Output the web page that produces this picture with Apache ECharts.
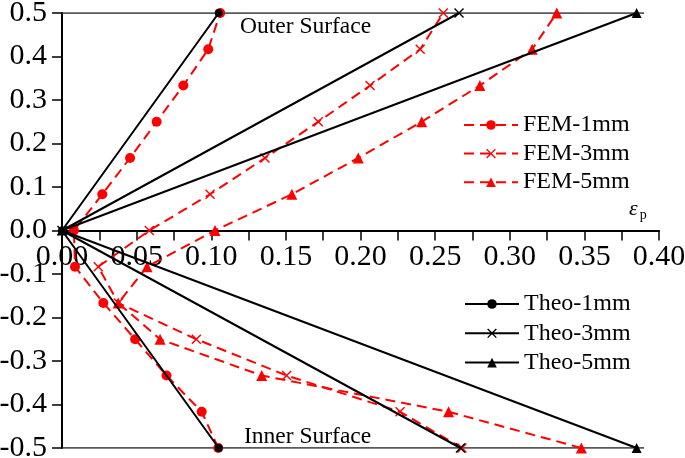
<!DOCTYPE html>
<html>
<head>
<meta charset="utf-8">
<script src="https://cdn.jsdelivr.net/npm/echarts@6/dist/echarts.min.js"></script>
<style>html,body{margin:0;padding:0;background:#fff;}#c{width:685px;height:458px;}</style>
</head>
<body>
<div id="c"></div>
<script>
// y positions (through-thickness), shared by all FEM series
const yLevels = [-0.5, -0.4167, -0.3333, -0.25, -0.1667, -0.0833, 0, 0.0833, 0.1667, 0.25, 0.3333, 0.4167, 0.5];
// FEM strains at each y level
const fem1 = [0.1047, 0.0936, 0.070, 0.049, 0.0277, 0.0087, 0.008, 0.027, 0.0456, 0.0634, 0.0813, 0.098, 0.106];
const fem3 = [0.268, 0.2265, 0.1505, 0.090, 0.0377, 0.0243, 0.0585, 0.0992, 0.136, 0.1717, 0.2064, 0.240, 0.2555];
const fem5 = [0.348, 0.259, 0.1338, 0.0657, 0.0377, 0.057, 0.1025, 0.154, 0.1985, 0.241, 0.280, 0.315, 0.3315];
// Theoretical: linear from origin to surfaces
const theoY = [-0.5, 0, 0.5];
const theo1 = [0.105, 0, 0.105];
const theo3 = [0.267, 0, 0.266];
const theo5 = [0.385, 0, 0.385];
// frame lines
const frameX = [0, 0.39];
const xTicks = [0, 0.05, 0.10, 0.15, 0.20, 0.25, 0.30, 0.35, 0.40];
const yTicks = [-0.5, -0.4, -0.3, -0.2, -0.1, 0.0, 0.1, 0.2, 0.3, 0.4, 0.5];

const pair = (xs, ys) => xs.map((x, i) => [x, ys[i]]);
const FONT = 'Liberation Serif';
const crossPath = 'path://M0,1 L1,0 L5,4 L9,0 L10,1 L6,5 L10,9 L9,10 L5,6 L1,10 L0,9 L4,5 Z';
const RED = '#ff0000';
const dash = [10, 6];

const GRID = { left: 62, right: 26, top: 13, bottom: 10 };
const H = 458;
const plotH = H - GRID.top - GRID.bottom;

function fem(name, xs, symbol, size) {
  return {
    name, type: 'line', data: pair(xs, yLevels), symbol, symbolSize: size,
    showAllSymbol: true,
    itemStyle: { color: RED },
    lineStyle: { color: RED, width: 2, type: dash },
    z: 3
  };
}
function theo(name, xs, symbol, size) {
  return {
    name, type: 'line', data: pair(xs, theoY), symbol, symbolSize: size,
    showAllSymbol: true,
    itemStyle: { color: '#000' },
    lineStyle: { color: '#000', width: 2 },
    z: 4
  };
}
function frame(y) {
  return {
    type: 'line', data: frameX.map(x => [x, y]), symbol: 'none', silent: true,
    lineStyle: { color: '#222', width: 1.5 }, z: 1
  };
}

const chart = echarts.init(document.getElementById('c'));
chart.setOption({
  animation: false,
  backgroundColor: '#fff',
  grid: Object.assign({ containLabel: false, outerBoundsMode: 'none' }, GRID),
  title: [
    { text: 'Outer Surface', left: 240, top: 15, padding: 0, textStyle: { fontFamily: FONT, fontSize: 23.5, fontWeight: 'normal', color: '#000' } },
    { text: 'Inner Surface', left: 244, top: 425, padding: 0, textStyle: { fontFamily: FONT, fontSize: 23.5, fontWeight: 'normal', color: '#000' } },
    { text: '{e|ε}{p|p}', left: 629, top: 196, padding: 0, textStyle: { fontWeight: 'normal', rich: {
      e: { fontFamily: FONT, fontStyle: 'italic', fontWeight: 'normal', fontSize: 22, color: '#000' },
      p: { fontFamily: FONT, fontWeight: 'normal', fontSize: 14, color: '#000', verticalAlign: 'bottom', padding: [12, 0, 0, 2] } } } }
  ],
  legend: [
    { data: ['FEM-1mm', 'FEM-3mm', 'FEM-5mm'], orient: 'vertical', left: 463, top: 113, padding: 0,
      itemWidth: 54, itemHeight: 12, itemGap: 4.6,
      textStyle: { fontFamily: FONT, fontSize: 24, color: '#000', lineHeight: 24 } },
    { data: ['Theo-1mm', 'Theo-3mm', 'Theo-5mm'], orient: 'vertical', left: 464, top: 292, padding: 0,
      itemWidth: 54, itemHeight: 12, itemGap: 5.3,
      textStyle: { fontFamily: FONT, fontSize: 24, color: '#000', lineHeight: 24 } }
  ],
  xAxis: {
    type: 'value', min: xTicks[0], max: xTicks[xTicks.length - 1], interval: 0.05,
    position: 'bottom', offset: -plotH / 2,
    axisLine: { onZero: false, lineStyle: { color: '#000', width: 2 } },
    axisTick: { show: true, length: 10, inside: false, lineStyle: { color: '#000', width: 1.5 } },
    minorTick: { show: true, splitNumber: 2, length: 10, lineStyle: { color: '#000', width: 1.5 } },
    splitLine: { show: false },
    axisLabel: { margin: 12, fontFamily: FONT, fontSize: 30, color: '#000', formatter: v => v.toFixed(2) }
  },
  yAxis: {
    type: 'value', min: yTicks[0], max: yTicks[yTicks.length - 1], interval: 0.1,
    axisLine: { onZero: false, lineStyle: { color: '#000', width: 2 } },
    axisTick: { show: true, length: 10, lineStyle: { color: '#000', width: 1.5 } },
    splitLine: { show: false },
    axisLabel: { margin: 15, fontFamily: FONT, fontSize: 30, color: '#000', formatter: v => v.toFixed(1) }
  },
  series: [
    frame(0.5), frame(-0.5),
    fem('FEM-1mm', fem1, 'circle', 10),
    fem('FEM-3mm', fem3, crossPath, 10),
    fem('FEM-5mm', fem5, 'triangle', 11),
    theo('Theo-1mm', theo1, 'circle', 8),
    theo('Theo-3mm', theo3, crossPath, 10),
    theo('Theo-5mm', theo5, 'triangle', 10)
  ]
});
</script>
</body>
</html>
